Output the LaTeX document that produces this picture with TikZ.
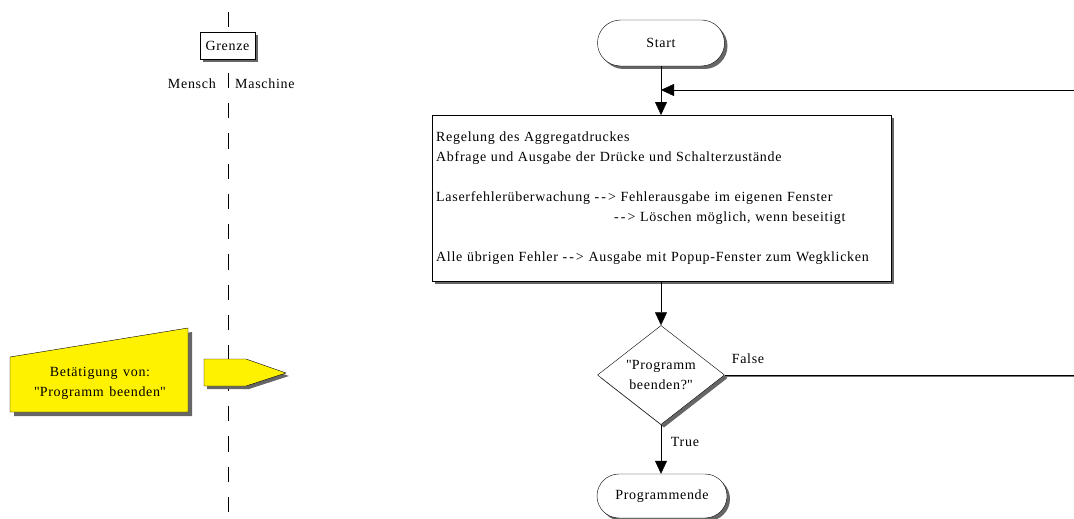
\documentclass[tikz,border=0pt]{standalone}
\usepackage{fontspec}
\setmainfont{Liberation Serif}[LetterSpace=5,WordSpace=1.3]
\usetikzlibrary{shapes.geometric,shapes.misc,arrows.meta,shadows}
\newcommand\darr{-\kern2pt-\kern2pt>}
\newcommand\dq{\textquotedbl}
\begin{document}
\begin{tikzpicture}[x=1pt,y=-1pt,
  every node/.style={font=\fontsize{14}{20}\selectfont, inner sep=0pt},
  sh/.style={drop shadow={shadow xshift=3pt,shadow yshift=-3pt,fill=black!60,opacity=1}},
  term/.style={rounded rectangle, draw, fill=white, sh, minimum width=127pt, minimum height=46pt},
  procbox/.style={draw, fill=white, sh, minimum width=459pt, minimum height=166pt, text width=451pt, align=left, inner xsep=4pt},
  decbox/.style={diamond, draw, fill=white, sh, minimum width=127pt, minimum height=94pt, align=center},
  arr/.style={-{Triangle[length=13pt,width=12pt]}},
  lshadow/.style={draw=black!55, line width=1pt},
  yel/.style={fill=yellow, draw=black},
  ysh/.style={fill=black!60}
]
\useasboundingbox (0,0) rectangle (1074,519);

% boundary
\draw[dash pattern=on 15.3pt off 15pt] (228,12) -- (228,519);
\node[draw, fill=white, sh, minimum width=55pt, minimum height=27pt] (grenze) at (227.5,45.5) {Grenze};
\node[anchor=east] (mensch) at (216,84) {Mensch};
\node[anchor=west] (maschine) at (235,84) {Maschine};

% manual input
\fill[ysh] (14,361)--(192,332)--(192,416)--(14,416)--cycle;
\filldraw[yel] (10,357)--(188,328)--(188,412)--(10,412)--cycle;
\node[align=center] (btg) at (100,383) {Betätigung von:\\\dq Programm beenden\dq};

% off-page connector arrow
\fill[ysh] (207,362)--(249,362)--(289,376)--(249,389)--(207,389)--cycle;
\filldraw[yel] (204,359)--(246,359)--(286,373)--(246,386)--(204,386)--cycle;

% flowchart
\node[term] (start) at (661,43) {Start};
\node[procbox, anchor=north west] (proc) at (432,115) {Regelung des Aggregatdruckes\\
Abfrage und Ausgabe der Drücke und Schalterzustände\\
\mbox{}\\
Laserfehlerüberwachung \darr{} Fehlerausgabe im eigenen Fenster\\
\hspace*{178pt}\darr{} Löschen möglich, wenn beseitigt\\
\mbox{}\\
Alle übrigen Fehler \darr{} Ausgabe mit Popup-Fenster zum Wegklicken};
\node[decbox] (dec) at (661,375) {\dq Programm\\beenden?\dq};
\node[term, minimum height=44pt, minimum width=130pt] (ende) at (662,496) {Programmende};

\coordinate (rin) at (1074,90);
\coordinate (rjoin) at (661,90);
\coordinate (fout) at (1074,375);

\draw[arr] (start.south) -- (start.south |- proc.north);
\draw[lshadow] ([yshift=-1pt]rin) -- ([yshift=-1pt]rjoin -| 675,0);
\draw[arr] (rin) -- (rjoin);
\draw[arr] (proc.south -| dec.north) -- (dec.north);
\draw[lshadow] ([yshift=-1.2pt]dec.east) -- ([yshift=-1.2pt]fout);
\draw (dec.east) -- (fout);
\draw[arr] (dec.south) -- (dec.south |- ende.north);

\node (lfalse) at (748,359) {False};
\node (ltrue) at (685,442) {True};
\end{tikzpicture}
\end{document}
